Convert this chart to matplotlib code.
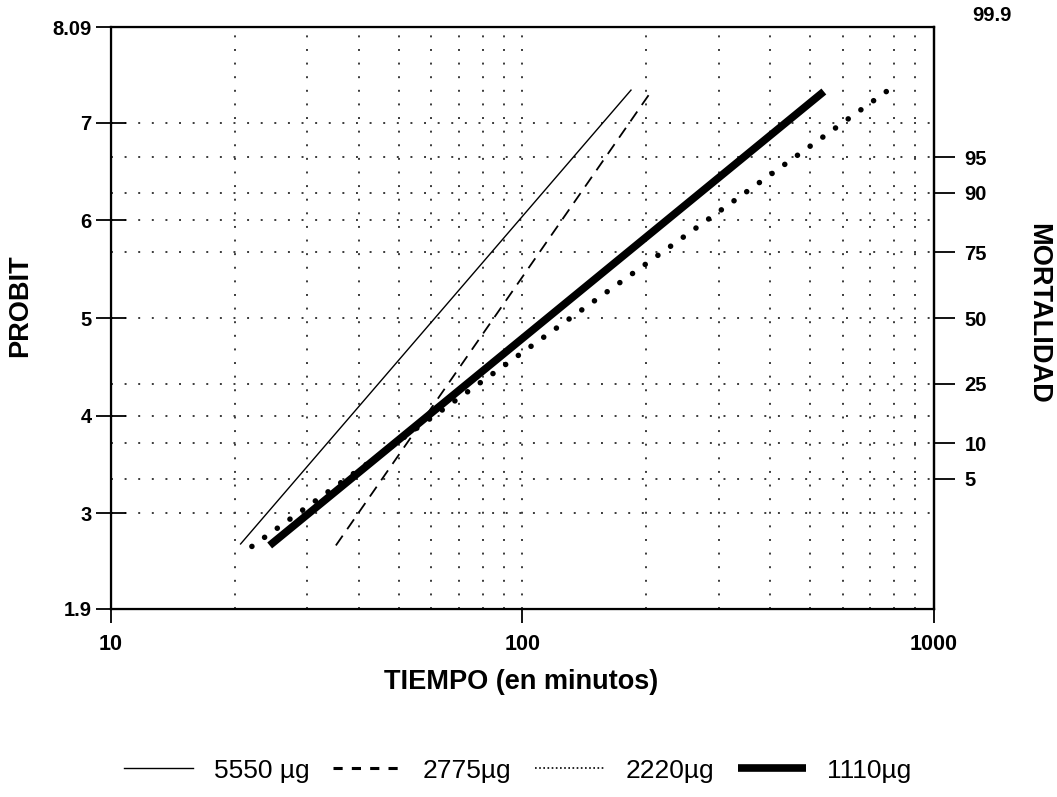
from statistics import NormalDist
import matplotlib
matplotlib.use("Agg")
from matplotlib import pyplot as plt
from matplotlib.lines import Line2D

plt.rcParams["font.family"] = ["Liberation Sans", "DejaVu Sans"]

# fitted probit lines: (time in minutes, probit) at each end
doses = ["5550 µg", "2775µg", "2220µg", "1110µg"]
t_5550 = [20.6, 184.0]
p_5550 = [2.68, 7.34]
t_2775 = [35.2, 207.0]
p_2775 = [2.67, 7.34]
t_2220 = [22.0, 778.0]
p_2220 = [2.66, 7.34]
t_1110 = [24.3, 540.0]
p_1110 = [2.67, 7.32]

probit_ticks = [3, 4, 5, 6, 7]
mortality_ticks = [95, 90, 75, 50, 25, 10, 5]
x_major = [10, 100, 1000]
x_minor = [20, 30, 40, 50, 60, 70, 80, 90, 200, 300, 400, 500, 600, 700, 800, 900]

# axis limits as drawn in the reference (edge labels 1.9 / 8.09)
Y_LO, Y_HI = 2.02, 7.98

mort_probit = [5 + NormalDist().inv_cdf(m / 100) for m in mortality_ticks]

fig = plt.figure(figsize=(10.57, 7.97), dpi=100)
ax = fig.add_axes([0.105, 0.236, 0.7786, 0.730])

ax.plot(t_5550, p_5550, color="k", lw=1.0, solid_capstyle="butt")
ax.plot(t_2775, p_2775, color="k", lw=1.3, linestyle=(0, (6.6, 4.4)))
ax.plot(t_2220, p_2220, color="k", lw=4.0, linestyle=(0, (0.01, 2.8)),
        dash_capstyle="round")
ax.plot(t_1110, p_1110, color="k", lw=5.5, solid_capstyle="butt")

ax.set_xscale("log")
ax.set_xlim(10, 1000)
ax.set_ylim(Y_LO, Y_HI)

ax.set_xticks(x_major)
ax.set_xticklabels([str(v) for v in x_major])
ax.set_xticks(x_minor, minor=True)
ax.set_xticklabels([], minor=True)

ax.set_yticks([Y_LO] + probit_ticks + [Y_HI])
ax.set_yticklabels(["1.9"] + [str(v) for v in probit_ticks] + ["8.09"])
ax.set_yticks(mort_probit, minor=True)

grid_kw = dict(color="#3a3a3a", lw=1.4, linestyle=(0, (1, 6)))
ax.grid(True, which="both", **grid_kw)

ax.tick_params(axis="x", which="major", direction="out", length=10, width=1.3,
               pad=8, labelsize=15.5)
ax.tick_params(axis="x", which="minor", length=0)
ax.tick_params(axis="y", which="major", direction="inout", length=22, width=1.3,
               pad=3, labelsize=14.5)
ax.tick_params(axis="y", which="minor", length=0)
for lab in ax.get_xticklabels() + ax.get_yticklabels():
    lab.set_fontweight("bold")

for s in ax.spines.values():
    s.set_linewidth(1.6)

ax2 = ax.twinx()
ax2.set_ylim(Y_LO, Y_HI)
ax2.set_yticks(mort_probit)
ax2.set_yticklabels([str(m) for m in mortality_ticks])
ax2.tick_params(axis="y", direction="out", length=15, width=1.3, pad=7,
                labelsize=14.5)
for lab in ax2.get_yticklabels():
    lab.set_fontweight("bold")
ax2.spines["right"].set_linewidth(1.6)
ax.text(1.07, 1.02, "99.9", transform=ax.transAxes, fontsize=14.5,
        fontweight="bold", ha="center", va="center")

fig.text(0.019, 0.617, "PROBIT", rotation=90, fontsize=19.5, fontweight="bold",
         ha="center", va="center")
fig.text(0.982, 0.607, "MORTALIDAD", rotation=270, fontsize=19.5,
         fontweight="bold", ha="center", va="center")
fig.text(0.493, 0.144, "TIEMPO (en minutos)", fontsize=19.5, fontweight="bold",
         ha="center", va="center")

handles = [
    Line2D([], [], color="k", lw=1.0),
    Line2D([], [], color="k", lw=2.2, linestyle=(0, (3, 3))),
    Line2D([], [], color="k", lw=1.2, linestyle=(0, (1, 1.5))),
    Line2D([], [], color="k", lw=5.5, solid_capstyle="butt"),
]
fig.legend(handles, doses, loc="center", bbox_to_anchor=(0.49, 0.033), ncol=4,
           frameon=False, fontsize=19, handlelength=2.6, handletextpad=0.8,
           columnspacing=0.9)

fig.savefig("out.png", dpi=100)
